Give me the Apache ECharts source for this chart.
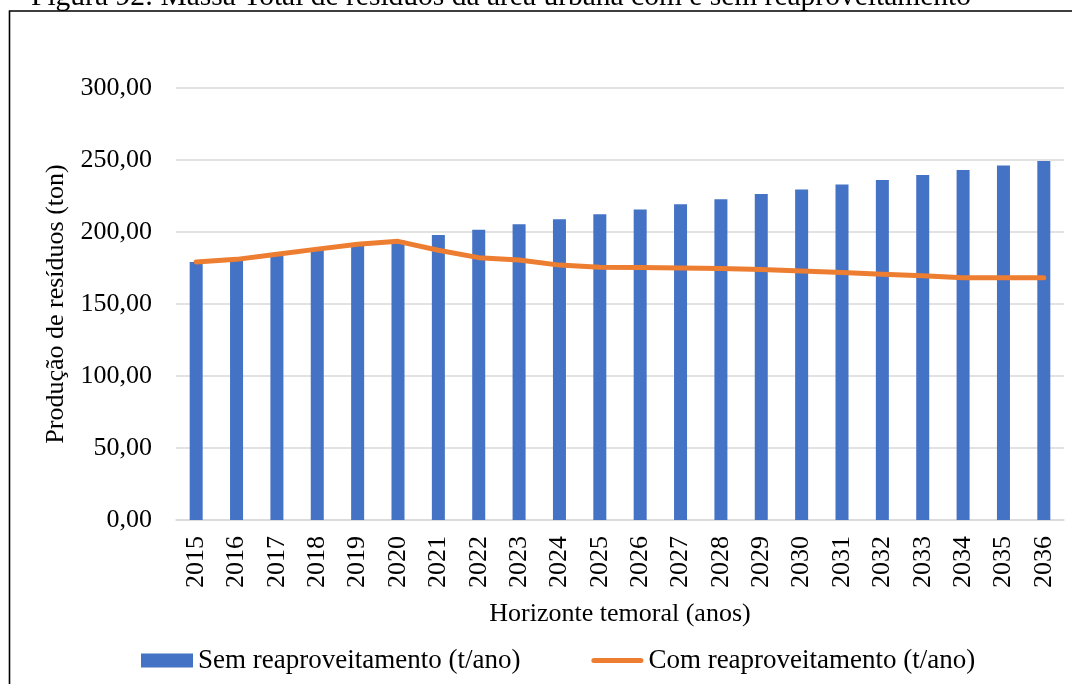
<!DOCTYPE html>
<html>
<head>
<meta charset="utf-8">
<script src="https://cdn.jsdelivr.net/npm/echarts@6/dist/echarts.min.js"></script>
<style>
  html, body { margin: 0; padding: 0; background: #ffffff; }
  #chart { width: 1072px; height: 684px; }
</style>
</head>
<body>
<div id="chart"></div>
<script>
// Horizonte temporal (anos)
const years = ['2015', '2016', '2017', '2018', '2019', '2020', '2021', '2022', '2023', '2024', '2025',
               '2026', '2027', '2028', '2029', '2030', '2031', '2032', '2033', '2034', '2035', '2036'];

// Massa total sem reaproveitamento (t/ano)
const semReaproveitamento = [179.2, 181.0, 184.6, 188.1, 191.5, 194.2, 197.9, 201.6, 205.3, 208.8, 212.3,
                             215.7, 219.2, 222.7, 226.4, 229.6, 232.9, 236.1, 239.6, 243.1, 246.1, 249.3];

// Massa total com reaproveitamento (t/ano)
const comReaproveitamento = [179.2, 181.0, 184.6, 188.1, 191.5, 193.5, 187.3, 182.2, 180.5, 177.0, 175.5,
                             175.3, 175.0, 174.7, 173.9, 172.9, 171.8, 170.6, 169.7, 168.3, 168.2, 168.2];

const seriesNames = ['Sem reaproveitamento (t/ano)', 'Com reaproveitamento (t/ano)'];
const figureTitle = 'Figura 92: Massa Total de resíduos da área urbana com e sem reaproveitamento';
const xAxisTitle = 'Horizonte temoral (anos)';
const yAxisTitle = 'Produção de resíduos (ton)';

const FONT = '"Liberation Serif", "Times New Roman", serif';
const FS = 26;

const chart = echarts.init(document.getElementById('chart'), null, { renderer: 'canvas' });

chart.setOption({
  backgroundColor: '#ffffff',
  animation: false,
  textStyle: { fontFamily: FONT, color: '#000000' },
  graphic: [
    {
      type: 'rect',
      shape: { x: 9.5, y: 11, width: 1200, height: 800 },
      style: { fill: 'none', stroke: '#000000', lineWidth: 1.6 },
      silent: true
    },
    {
      type: 'text',
      x: 31,
      y: -3,
      style: {
        text: figureTitle,
        font: '29.5px ' + FONT,
        fill: '#000000',
        textVerticalAlign: 'middle'
      },
      silent: true
    }
  ],
  grid: { left: 176, right: 8, top: 88, bottom: 164, containLabel: false },
  legend: {
    left: 141,
    top: 647,
    padding: 0,
    itemWidth: 52,
    itemHeight: 14,
    itemGap: 71,
    textStyle: { fontFamily: FONT, fontSize: 27, color: '#000000' },
    data: [
      { name: seriesNames[0], icon: 'rect' },
      { name: seriesNames[1], icon: 'path://M2.5,0H49.5A2.5,2.5 0 0 1 49.5,5H2.5A2.5,2.5 0 0 1 2.5,0Z' }
    ]
  },
  xAxis: {
    type: 'category',
    data: years,
    boundaryGap: true,
    name: xAxisTitle,
    nameLocation: 'middle',
    nameGap: 81,
    nameTextStyle: { fontFamily: FONT, fontSize: FS, color: '#000000' },
    axisLine: { show: true, lineStyle: { color: '#d9d9d9', width: 1.5 } },
    axisTick: { show: false },
    axisLabel: {
      rotate: 90,
      margin: 16,
      fontFamily: FONT,
      fontSize: FS,
      color: '#000000'
    }
  },
  yAxis: {
    type: 'value',
    min: 0,
    max: 300,
    interval: 50,
    name: yAxisTitle,
    nameLocation: 'middle',
    nameRotate: 90,
    nameGap: 104,
    nameTextStyle: { fontFamily: FONT, fontSize: FS, color: '#000000' },
    axisLine: { show: false },
    axisTick: { show: false },
    splitLine: { show: true, lineStyle: { color: '#d9d9d9', width: 1.5 } },
    axisLabel: {
      margin: 24,
      fontFamily: FONT,
      fontSize: FS,
      color: '#000000',
      formatter: v => v.toFixed(2).replace('.', ',')
    }
  },
  series: [
    {
      name: seriesNames[0],
      type: 'bar',
      data: semReaproveitamento,
      barWidth: 13,
      itemStyle: { color: '#4472C4' }
    },
    {
      name: seriesNames[1],
      type: 'line',
      data: comReaproveitamento,
      symbol: 'none',
      smooth: false,
      lineStyle: { color: '#ED7D31', width: 5, cap: 'round', join: 'round' },
      itemStyle: { color: '#ED7D31' }
    }
  ]
});
</script>
</body>
</html>
